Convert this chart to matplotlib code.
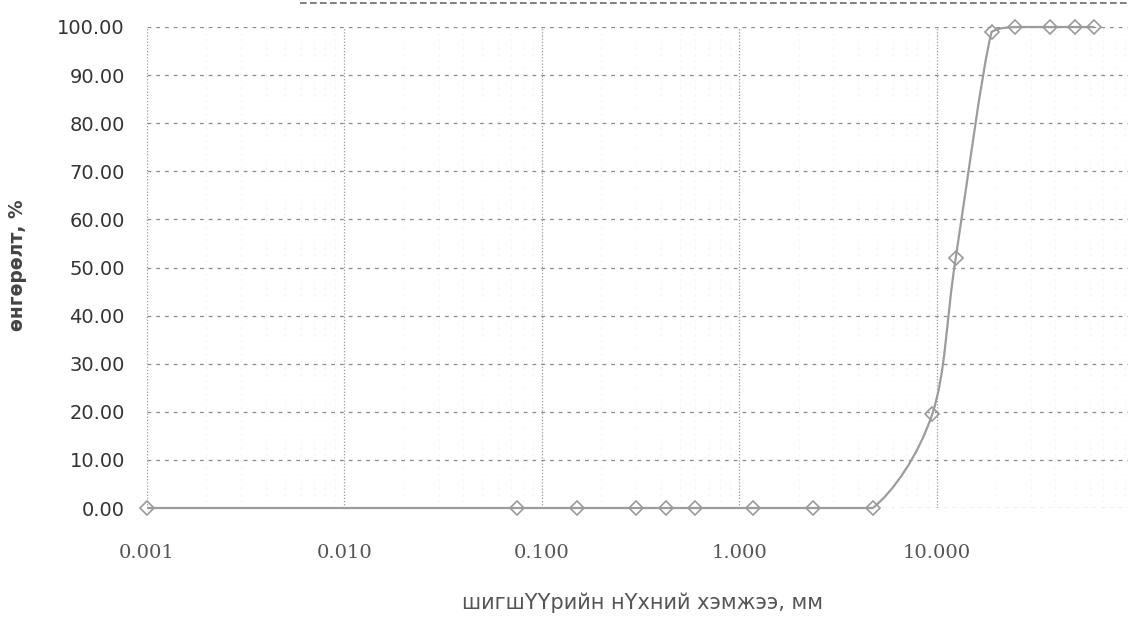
import numpy as np
import matplotlib
matplotlib.use("Agg")
import matplotlib.pyplot as plt
from matplotlib.path import Path
from matplotlib.patches import PathPatch
from matplotlib.lines import Line2D
from matplotlib.ticker import NullFormatter, LogLocator

# Sieve opening sizes (mm) and cumulative percent passing
sieve_mm = [0.001, 0.075, 0.15, 0.3, 0.425, 0.6, 1.18, 2.36, 4.75,
            9.5, 12.5, 19.0, 25.0, 37.5, 50.0, 63.0]
passing_pct = [0, 0, 0, 0, 0, 0, 0, 0, 0,
               19.5, 52, 99, 100, 100, 100, 100]

x_ticks = [0.001, 0.01, 0.1, 1.0, 10.0]
x_tick_labels = ["0.001", "0.010", "0.100", "1.000", "10.000"]
y_ticks = list(range(0, 101, 10))
y_tick_labels = [f"{v:.2f}" for v in y_ticks]

x_title = "шигшҮҮрийн нҮхний хэмжээ, мм"
y_title = "өнгөрөлт, %"

W, H = 1128, 620
fig = plt.figure(figsize=(W / 100, H / 100), dpi=100)
fig.patch.set_facecolor("white")

ax = fig.add_axes([147 / W, (H - 508) / H, 987 / W, (508 - 27) / H])
ax.set_xscale("log")
ax.set_xlim(0.001, 100)
ax.set_ylim(0, 100)
for s in ax.spines.values():
    s.set_visible(False)

ax.xaxis.set_minor_locator(LogLocator(base=10, subs=np.arange(2, 10)))
ax.xaxis.set_minor_formatter(NullFormatter())
ax.set_xticks(x_ticks)
ax.set_xticklabels(x_tick_labels)
ax.set_yticks(y_ticks)
ax.set_yticklabels(y_tick_labels)
ax.tick_params(axis="both", which="both", length=0)
ax.tick_params(axis="x", pad=26, labelsize=14, labelcolor="#555555")
ax.tick_params(axis="y", pad=16, labelsize=14, labelcolor="#333333")
for lab in ax.get_xticklabels():
    lab.set_family("DejaVu Serif")
for lab in ax.get_yticklabels():
    lab.set_family("DejaVu Sans")

ax.grid(True, axis="y", which="major", color="#8a8a8a", lw=0.9,
        linestyle=(0, (3, 4)))
ax.grid(True, axis="x", which="major", color="#9a9a9a", lw=0.9,
        linestyle=(0, (1, 1.5)))
ax.grid(True, axis="x", which="minor", color="#dddddd", lw=0.6,
        linestyle=(0, (1, 7)))
ax.set_axisbelow(True)

# smoothed line: cardinal spline in log-x space, control points kept
# within each segment's value range so the line does not overshoot
lx = np.log10(sieve_mm)
py = np.array(passing_pct, dtype=float)
n = len(lx)
verts = [(sieve_mm[0], py[0])]
codes = [Path.MOVETO]
for i in range(n - 1):
    i0 = max(i - 1, 0)
    i3 = min(i + 2, n - 1)
    lo, hi = min(py[i], py[i + 1]), max(py[i], py[i + 1])
    c1x = lx[i] + (lx[i + 1] - lx[i0]) / 6
    c1y = np.clip(py[i] + (py[i + 1] - py[i0]) / 6, lo, hi)
    c2x = lx[i + 1] - (lx[i3] - lx[i]) / 6
    c2y = np.clip(py[i + 1] - (py[i3] - py[i]) / 6, lo, hi)
    verts += [(10 ** c1x, c1y), (10 ** c2x, c2y), (sieve_mm[i + 1], py[i + 1])]
    codes += [Path.CURVE4] * 3
curve = PathPatch(Path(verts, codes), facecolor="none", edgecolor="#9c9c9c",
                  lw=1.6, clip_on=False, zorder=3)
ax.add_patch(curve)

ax.plot(sieve_mm, passing_pct, linestyle="none", marker="D", ms=7,
        mfc="none", mec="#9a9a9a", mew=1.2, clip_on=False, zorder=4)

fig.text(643 / W, 1 - 603 / H, x_title, ha="center", va="center",
         fontsize=15, color="#555555", family="DejaVu Sans")
fig.text(18 / W, 1 - 265 / H, y_title, ha="center", va="center",
         rotation=90, fontsize=13.5, fontweight="bold", color="#444444",
         family="DejaVu Sans")

# frame edge along the top
fig.add_artist(Line2D([300 / W, 1.0], [1 - 3 / H, 1 - 3 / H],
                      transform=fig.transFigure, color="#6a6a6a", lw=1.2,
                      linestyle=(0, (4, 2))))

fig.savefig("out.png", dpi=100, facecolor="white")
